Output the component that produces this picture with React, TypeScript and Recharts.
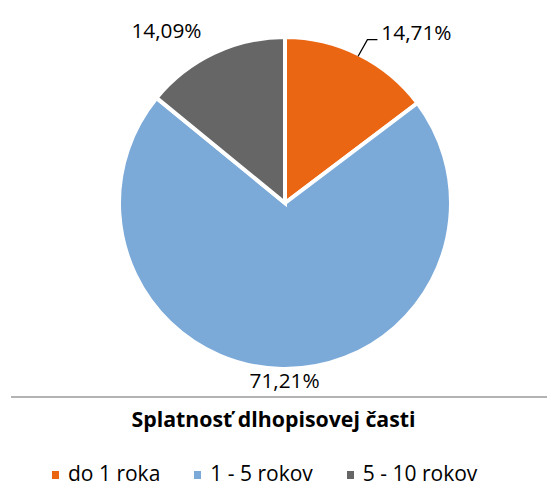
import { Legend, Pie, PieChart } from "recharts";

const categories = ["do 1 roka", "1 - 5 rokov", "5 - 10 rokov"];
const shares = [14.71, 71.21, 14.09];
const colors = ["#EB6612", "#7BA9D8", "#666666"];
const labelTexts = ["14,71%", "71,21%", "14,09%"];

const FONT = "'Open Sans', Lato, sans-serif";
const RADIAN = Math.PI / 180;

// Excel "best fit" label placement: angle shift (deg) and distance from centre
const labelPlacement = [
  { angleShift: -11, dist: 216, leader: true },
  { angleShift: 1, dist: 177, leader: false },
  { angleShift: 9, dist: 210, leader: false },
];

const chartData = categories.map((name, i) => ({
  name,
  value: shares[i],
  fill: colors[i],
}));

type LabelProps = {
  cx: number;
  cy: number;
  midAngle: number;
  outerRadius: number;
  index: number;
};

function renderLabel({ cx, cy, midAngle, outerRadius, index }: LabelProps) {
  const place = labelPlacement[index];
  const a = (midAngle + place.angleShift) * RADIAN;
  const x = cx + place.dist * Math.cos(a);
  const y = cy - place.dist * Math.sin(a);
  const text = (
    <text
      key={`t${index}`}
      x={x}
      y={y}
      textAnchor="middle"
      dominantBaseline="central"
      fontFamily={FONT}
      fontSize={20.8}
      fill="#000"
    >
      {labelTexts[index]}
    </text>
  );
  if (!place.leader) return text;
  const m = midAngle * RADIAN;
  const r0 = outerRadius - 2;
  const sx = cx + r0 * Math.cos(m);
  const sy = cy - r0 * Math.sin(m);
  const ey = y + 8;
  const ex = x - 39;
  const kx = ex - 10;
  return (
    <g key={`g${index}`}>
      <path d={`M${sx},${sy}L${kx},${ey}L${ex},${ey}`} stroke="#000" strokeWidth={1.3} fill="none" />
      {text}
    </g>
  );
}

function LegendContent() {
  return (
    <div
      style={{
        display: "flex",
        paddingLeft: 52,
        gap: 34,
        fontFamily: FONT,
        fontSize: 21,
        lineHeight: "20px",
        color: "#000",
      }}
    >
      {chartData.map((d) => (
        <div key={d.name} style={{ display: "flex", alignItems: "center" }}>
          <span
            style={{
              display: "inline-block",
              width: 7,
              height: 8,
              marginTop: 4,
              background: d.fill,
              marginRight: 9,
            }}
          />
          <span style={{ fontSize: 21 }}>{d.name}</span>
        </div>
      ))}
    </div>
  );
}

export default function App() {
  return (
    <div style={{ position: "absolute", left: 0, top: 0, width: 547, height: 488, background: "#fff", overflow: "hidden" }}>
      <PieChart width={547} height={488} margin={{ top: 0, right: 0, bottom: 0, left: 0 }}>
        <Pie
          data={chartData}
          dataKey="value"
          nameKey="name"
          cx={285}
          cy={203}
          outerRadius={166}
          startAngle={90}
          endAngle={-270}
          stroke="#fff"
          strokeWidth={4}
          label={renderLabel}
          labelLine={false}
          isAnimationActive={false}
        />
        <Legend
          content={<LegendContent />}
          wrapperStyle={{ position: "absolute", left: 0, top: 463, width: 547 }}
        />
      </PieChart>
      <div
        style={{
          position: "absolute",
          left: 11,
          top: 396,
          width: 536,
          height: 2,
          background: "#B3B3B3",
        }}
      />
      <div
        style={{
          position: "absolute",
          left: 0,
          top: 405,
          width: 547,
          textAlign: "center",
          fontFamily: FONT,
          fontWeight: 700,
          fontSize: 21.3,
          lineHeight: "28px",
          color: "#000",
        }}
      >
        Splatnosť dlhopisovej časti
      </div>
    </div>
  );
}
